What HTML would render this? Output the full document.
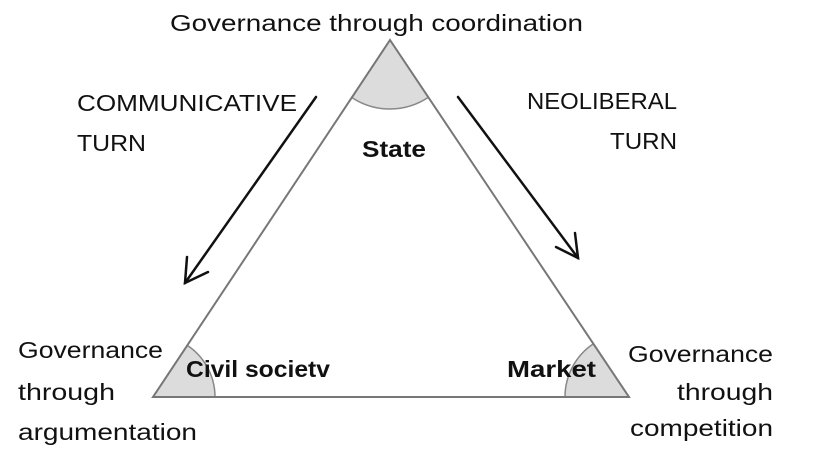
<!DOCTYPE html>
<html><head><style>
body{margin:0;background:#fff;}
svg{display:block;}
text{font-family:"Liberation Sans",sans-serif;font-size:23px;fill:#111;}
.b{font-weight:bold;}
</style></head><body>
<svg width="813" height="460" viewBox="0 0 813 460">
<path d="M390,40 L351.8,97.5 A69,69 0 0 0 428.4,97.3 Z" fill="#dcdcdc" stroke="#888" stroke-width="1.5"/>
<path d="M153,397 L187.3,345.4 A62,62 0 0 1 215,397 Z" fill="#dcdcdc" stroke="#888" stroke-width="1.5"/>
<path d="M629,397 L593.4,343.8 A64,64 0 0 0 565,397 Z" fill="#dcdcdc" stroke="#888" stroke-width="1.5"/>
<polygon points="390,40 153,397 629,397" fill="none" stroke="#777" stroke-width="2"/>
<g stroke="#111" stroke-width="2.5" fill="none" stroke-linecap="round">
<line x1="316" y1="97" x2="185" y2="283"/>
<polyline points="187,257 185,283 208,272"/>
<line x1="458" y1="97" x2="578" y2="258"/>
<polyline points="575,233 578,258 556,247"/>
</g>
<g lengthAdjust="spacingAndGlyphs">
<text x="170" y="31" textLength="413" lengthAdjust="spacingAndGlyphs">Governance through coordination</text>
<text x="77" y="111" textLength="220" lengthAdjust="spacingAndGlyphs">COMMUNICATIVE</text>
<text x="77" y="151" textLength="69" lengthAdjust="spacingAndGlyphs">TURN</text>
<text x="527" y="109" textLength="150" lengthAdjust="spacingAndGlyphs">NEOLIBERAL</text>
<text x="610" y="149" textLength="67" lengthAdjust="spacingAndGlyphs">TURN</text>
<text x="362" y="157" class="b" textLength="64" lengthAdjust="spacingAndGlyphs">State</text>
<text x="186" y="377" class="b" textLength="144" lengthAdjust="spacingAndGlyphs">Civil societv</text>
<text x="507" y="377" class="b" textLength="89" lengthAdjust="spacingAndGlyphs">Market</text>
<text x="18" y="358" textLength="145" lengthAdjust="spacingAndGlyphs">Governance</text>
<text x="18" y="400" textLength="97" lengthAdjust="spacingAndGlyphs">through</text>
<text x="18" y="440" textLength="179" lengthAdjust="spacingAndGlyphs">argumentation</text>
<text x="628" y="362" textLength="145" lengthAdjust="spacingAndGlyphs">Governance</text>
<text x="677" y="400" textLength="96" lengthAdjust="spacingAndGlyphs">through</text>
<text x="630" y="436" textLength="143" lengthAdjust="spacingAndGlyphs">competition</text>
</g>
</svg>
</body></html>
